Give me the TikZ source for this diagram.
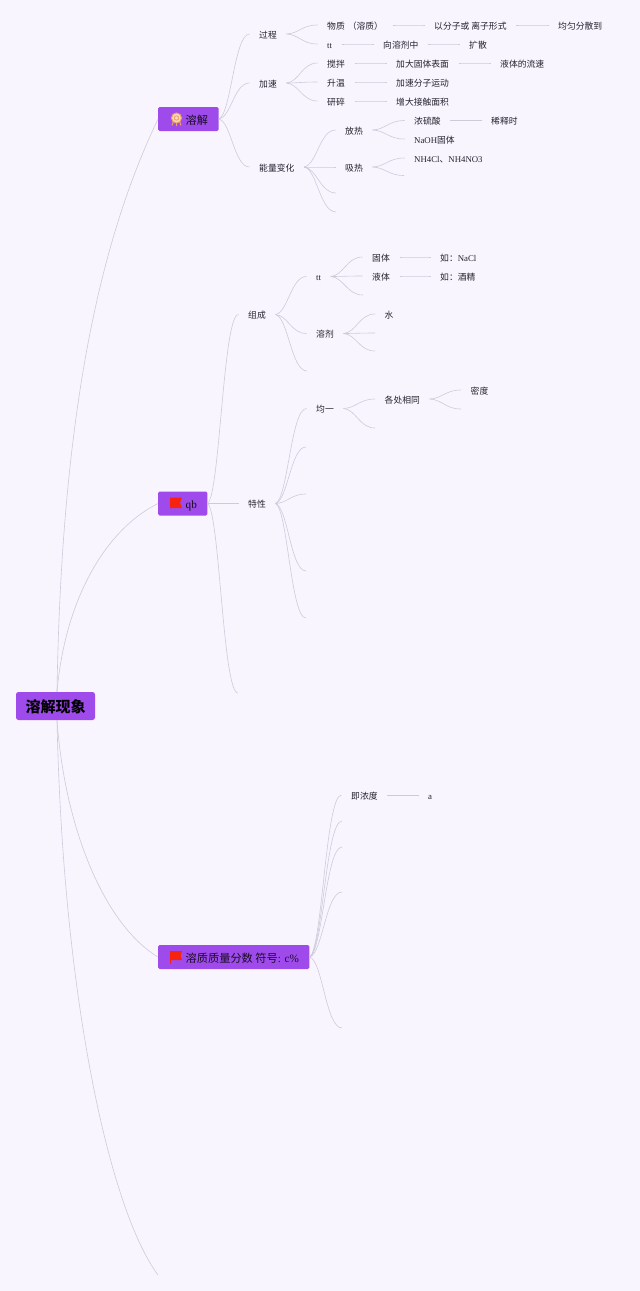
\documentclass[tikz,border=0pt]{standalone}
\usepackage{fontspec}
\setmainfont{Liberation Serif}
\newfontfamily\cjk{Noto Sans CJK SC}
\usetikzlibrary{calc}
\definecolor{pagebg}{HTML}{F8F5FE}
\definecolor{boxfill}{HTML}{9F4BEB}
\definecolor{edgecol}{HTML}{CFCADB}
\definecolor{inkcol}{HTML}{262230}
\definecolor{flagred}{HTML}{F5230F}
\definecolor{badge}{HTML}{F0A060}
\tikzset{
  leaf/.style={anchor=west,inner xsep=9.5pt,inner ysep=1pt,text height=9.6pt,text depth=1pt,text=inkcol,font=\fontsize{8.8pt}{10pt}\selectfont},
  topic/.style={anchor=west,fill=boxfill,rounded corners=1.5pt,inner xsep=10.5pt,inner ysep=0pt,minimum height=24pt,text height=11.6pt,text depth=1.3pt,text=black!85!boxfill,font=\fontsize{11.2pt}{13pt}\selectfont},
  rootbox/.style={fill=boxfill,rounded corners=2.5pt,minimum width=79pt,minimum height=28pt,inner sep=0pt,text height=15pt,text depth=1.5pt,text=black,font=\fontsize{15pt}{18pt}\selectfont\bfseries},
  edge/.style={draw=edgecol,line width=0.6pt},
}
\newcommand\lnk[2]{\draw[edge] let \p1=(#1),\p2=(#2),\n1={\x2-\x1},\n2={\y2-\y1} in (\p1) .. controls (\x1+.4*\n1,\y1+.05*\n2) and (\x1+.5*\n1,\y2) .. (\p2);}
\begin{document}
\begin{tikzpicture}[x=1pt,y=-1pt]
\fill[pagebg] (0,0) rectangle (640,1291);
\useasboundingbox (0,0) rectangle (640,1291);
% root and topics
\node[rootbox] (root) at (55.5,706) {\cjk 溶解现象};
\node[topic] (rj) at (158,119) {\hspace{17pt}{\cjk 溶解}};
\node[topic] (qb) at (158,503.5) {\hspace{17pt}qb};
\node[topic] (zl) at (158,957) {\hspace{17pt}{\cjk 溶质质量分数 符号}: c\%};
\coordinate (rootend) at (158,1275);
% branch one
\node[leaf] (gc) at (249.5,34) {\cjk 过程};
\node[leaf] (js) at (249.5,83) {\cjk 加速};
\node[leaf] (nl) at (249.5,167) {\cjk 能量变化};
\node[leaf] (wz) at (317.5,25) {\cjk 物质\hspace{3pt}（溶质）};
\node[leaf] (fz) at (424.5,25) {\cjk 以分子或 离子形式};
\node[leaf] (jy) at (548.5,25) {\cjk 均匀分散到};
\node[leaf] (t1) at (317.5,44) {tt};
\node[leaf] (xr) at (373.5,44) {\cjk 向溶剂中};
\node[leaf] (ks) at (459.5,44) {\cjk 扩散};
\node[leaf] (jb) at (317.5,63) {\cjk 搅拌};
\node[leaf] (jd) at (386.5,63) {\cjk 加大固体表面};
\node[leaf] (lt) at (490.5,63) {\cjk 液体的流速};
\node[leaf] (sw) at (317.5,82) {\cjk 升温};
\node[leaf] (jf) at (386.5,82) {\cjk 加速分子运动};
\node[leaf] (ys) at (317.5,101) {\cjk 研碎};
\node[leaf] (zd) at (386.5,101) {\cjk 增大接触面积};
\node[leaf] (fr) at (335.5,130) {\cjk 放热};
\node[leaf] (xh) at (335.5,167) {\cjk 吸热};
\coordinate (e1) at (336,193);
\coordinate (e2) at (336,212);
\node[leaf] (nh) at (404.5,120.5) {\cjk 浓硫酸};
\node[leaf] (xs) at (481.5,120.5) {\cjk 稀释时};
\node[leaf] (na) at (404.5,139) {NaOH{\cjk 固体}};
\node[leaf] (nc) at (404.5,158) {NH4Cl{\cjk 、}NH4NO3};
\coordinate (e3) at (404,175.5);
% branch two
\node[leaf] (zc) at (238.5,314.5) {\cjk 组成};
\node[leaf] (tx) at (238.5,503.5) {\cjk 特性};
\coordinate (e4) at (238,693);
\node[leaf] (t2) at (306.5,276.5) {tt};
\node[leaf] (rj2) at (306.5,333.5) {\cjk 溶剂};
\coordinate (e5) at (307,371);
\node[leaf] (gt) at (362.5,257) {\cjk 固体};
\node[leaf] (yt) at (362.5,276) {\cjk 液体};
\coordinate (e6) at (363,295);
\node[leaf] (nacl) at (430.5,257) {{\cjk 如：}NaCl};
\node[leaf] (jj) at (430.5,276) {\cjk 如：酒精};
\node[leaf] (sh) at (375,314) {\cjk 水};
\coordinate (e7) at (375,333);
\coordinate (e8) at (375,351);
\node[leaf] (jyi) at (306.5,408.5) {\cjk 均一};
\coordinate (e9) at (306,447);
\coordinate (e10) at (306,494);
\coordinate (e11) at (306,571);
\coordinate (e12) at (306,618);
\node[leaf] (gc2) at (375,399) {\cjk 各处相同};
\coordinate (e13) at (375,428);
\node[leaf] (md) at (461,390) {\cjk 密度};
\coordinate (e14) at (461,409);
% branch three
\node[leaf] (jn) at (341.5,795) {\cjk 即浓度};
\node[leaf] (aa) at (418.5,795) {a};
\coordinate (e15) at (342,821);
\coordinate (e16) at (342,847);
\coordinate (e17) at (342,892);
\coordinate (e18) at (342,1028);
% icons
\begin{scope}[line width=1pt,draw=badge]
\draw (174,120) -- (172,125.5) (176.5,121) -- (176.5,126) (179,120) -- (181,125.5);
\draw[fill=badge!35] (176.5,118) circle (5pt);
\draw (176.5,118) circle (2.2pt);
\end{scope}
\fill[flagred] (170,497.5) -- (182,497.5) -- (180,502.5) -- (182,508) -- (170,508) -- cycle;
\fill[flagred] (170,951) -- (182,951) -- (180.5,955.5) -- (182,960) -- (171,960) -- (171,963.5) -- (170,963.5) -- cycle;
% root connectors
\draw[edge] ([xshift=1.5pt]root.north) .. controls (62,380) and (110,220) .. (rj.west);
\draw[edge] ([xshift=1.5pt]root.north) .. controls (65,600) and (105,530) .. (qb.west);
\draw[edge] ([xshift=1.5pt]root.south) .. controls (65,830) and (105,925) .. (zl.west);
\draw[edge] ([xshift=1.5pt]root.south) .. controls (63,1000) and (110,1210) .. (rootend);
% connectors
\foreach \a/\b in {rj.east/gc.west,rj.east/js.west,rj.east/nl.west,
  gc.east/wz.west,gc.east/t1.west,wz.east/fz.west,fz.east/jy.west,t1.east/xr.west,xr.east/ks.west,
  js.east/jb.west,js.east/sw.west,js.east/ys.west,jb.east/jd.west,jd.east/lt.west,sw.east/jf.west,ys.east/zd.west,
  nl.east/fr.west,nl.east/xh.west,nl.east/e1,nl.east/e2,
  fr.east/nh.west,fr.east/na.west,nh.east/xs.west,xh.east/nc.west,xh.east/e3,
  qb.east/zc.west,qb.east/tx.west,qb.east/e4,
  zc.east/t2.west,zc.east/rj2.west,zc.east/e5,
  t2.east/gt.west,t2.east/yt.west,t2.east/e6,gt.east/nacl.west,yt.east/jj.west,
  rj2.east/sh.west,rj2.east/e7,rj2.east/e8,
  tx.east/jyi.west,tx.east/e9,tx.east/e10,tx.east/e11,tx.east/e12,
  jyi.east/gc2.west,jyi.east/e13,gc2.east/md.west,gc2.east/e14,
  zl.east/jn.west,zl.east/e15,zl.east/e16,zl.east/e17,zl.east/e18,jn.east/aa.west}{\lnk{\a}{\b}}
\end{tikzpicture}
\end{document}
